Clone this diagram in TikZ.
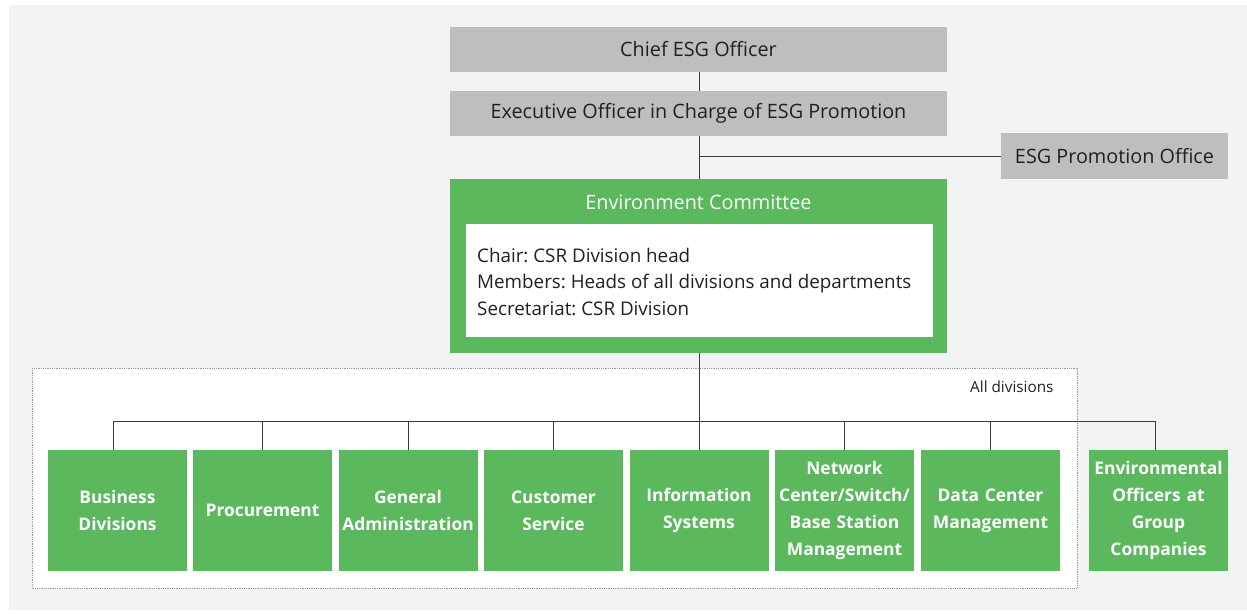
\documentclass[tikz,border=0pt]{standalone}
\usepackage{fontspec}
\setmainfont{Open Sans}
\frenchspacing
\definecolor{bgc}{RGB}{242,244,243}
\definecolor{grn}{RGB}{91,184,93}
\definecolor{gbox}{RGB}{189,190,192}
\definecolor{txt}{RGB}{35,31,32}
\definecolor{lnc}{RGB}{60,58,58}
\tikzset{
  graybox/.style={fill=gbox, text=txt, minimum width=497pt, minimum height=45pt, inner sep=0pt, font=\fontsize{19.8}{22}\selectfont},
  grnbox/.style={fill=grn, text=white, minimum width=139pt, minimum height=121pt, inner sep=1pt, align=center, font=\fontsize{17.4}{27}\selectfont\bfseries, text width=137pt},
  conn/.style={draw=lnc, line width=0.9pt},
}
\begin{document}
\begin{tikzpicture}[x=1pt,y=-1pt]
\useasboundingbox (0,0) rectangle (1247,613);
\fill[white] (0,0) rectangle (1247,613);
\fill[bgc] (9,5) rectangle (1247,610);
% dotted area
\draw[draw=gray!80, densely dotted, fill=white, line width=0.8pt] (32,368) rectangle (1077,588);
\node[anchor=east, text=txt, font=\fontsize{15.3}{17}\selectfont] (alld) at (1057,387) {All divisions};
% top boxes
\node[graybox] (chief) at (698.5,49.5) {Chief ESG Officer};
\node[graybox] (exec) at (698.5,113.5) {Executive Officer in Charge of ESG Promotion};
\node[graybox, minimum width=227pt, minimum height=46pt] (office) at (1114.5,156) {ESG Promotion Office};
% environment committee
\node[fill=grn, minimum width=497pt, minimum height=174pt, inner sep=0pt] (env) at (698.5,266) {};
\node[text=white, font=\fontsize{19.8}{22}\selectfont] (envt) at (698.5,202) {Environment Committee};
\node[fill=white, minimum width=467pt, minimum height=113pt, inner sep=0pt] (inner) at (699.5,280.5) {};
\node[anchor=west, text=txt, align=left, inner sep=0pt, font=\fontsize{18.8}{26.5}\selectfont] (body) at (477,281.5)
  {Chair: CSR Division head\\Members: Heads of all divisions and departments\\Secretariat: CSR Division};
% bottom boxes
\node[grnbox] (b1) at (117.5,510.5) {Business\\Divisions};
\node[grnbox] (b2) at (262.5,510.5) {Procurement};
\node[grnbox] (b3) at (408,510.5) {General\\Administration};
\node[grnbox] (b4) at (553.5,510.5) {Customer\\Service};
\node[grnbox] (b5) at (699,510.5) {Information\\Systems};
\node[grnbox] (b6) at (844.5,510.5) {Network\\Center/Switch/\\Base Station\\Management};
\node[grnbox] (b7) at (990.5,510.5) {Data Center\\Management};
\node[grnbox] (b8) at (1158.5,510.5) {Environmental\\Officers at\\Group\\Companies};
% connectors
\coordinate (j1) at (699,156);
\coordinate (bus) at (699,421);
\draw[conn] (chief.south -| j1) -- (exec.north -| j1);
\draw[conn] (exec.south -| j1) -- (env.north -| j1);
\draw[conn] (j1) -- (office.west);
\draw[conn] (env.south -| bus) -- (bus);
\draw[conn] ([xshift=-4.5pt]b1.north) |- (bus);
\draw[conn] (b2.north) |- (bus);
\draw[conn] (b3.north) |- (bus);
\draw[conn] (b4.north) |- (bus);
\draw[conn] (b5.north) -- (bus);
\draw[conn] (b6.north) |- (bus);
\draw[conn] (b7.north) |- (bus);
\draw[conn] ([xshift=-3.5pt]b8.north) |- (bus);
\end{tikzpicture}
\end{document}
